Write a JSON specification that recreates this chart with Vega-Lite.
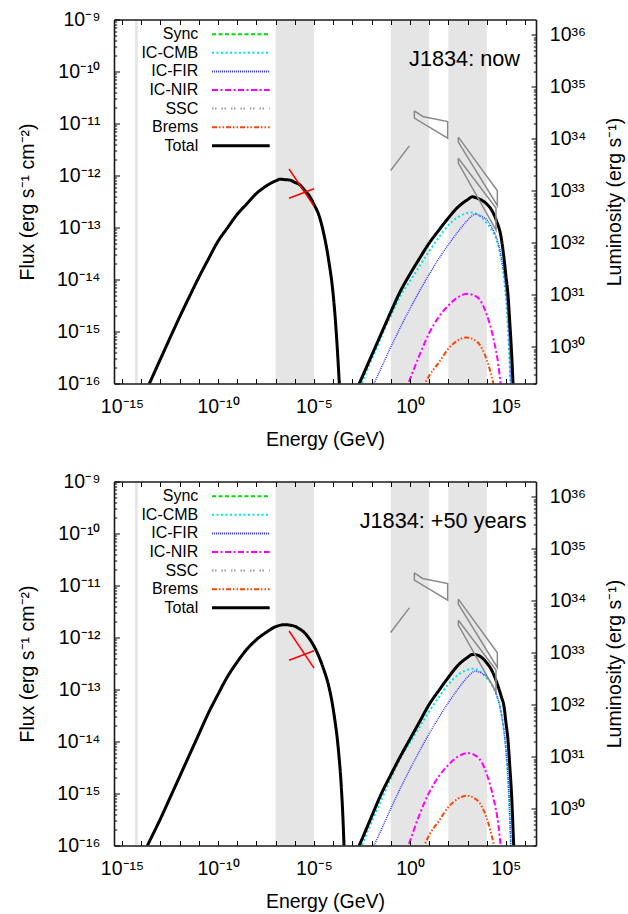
{
  "$schema": "https://vega.github.io/schema/vega-lite/v6.json",
  "padding": {"left": 17, "top": 9.5, "right": 3, "bottom": 4},
  "background": "white",
  "datasets": {
    "bands": [
      {"band": "radio", "E0": 4.8e-15, "E1": 6.6e-15},
      {"band": "xray", "E0": 1e-7, "E1": 1e-5},
      {"band": "gev", "E0": 0.1, "E1": 10},
      {"band": "tev", "E0": 100, "E1": 1e4}
    ],
    "lum": [{"L": 1e30}, {"L": 1e36}],
    "obs": [
      {"shape": "fermi_low", "i": 0, "E": 0.098, "F": 1.25e-12},
      {"shape": "fermi_low", "i": 1, "E": 0.92, "F": 3.72e-12},
      {"shape": "fermi_bowtie", "i": 0, "E": 1.683, "F": 1.754e-11},
      {"shape": "fermi_bowtie", "i": 1, "E": 4.58, "F": 1.364e-11},
      {"shape": "fermi_bowtie", "i": 2, "E": 91.6, "F": 1.091e-11},
      {"shape": "fermi_bowtie", "i": 3, "E": 91.6, "F": 5.22e-12},
      {"shape": "fermi_bowtie", "i": 4, "E": 1.683, "F": 1.268e-11},
      {"shape": "fermi_bowtie", "i": 5, "E": 1.683, "F": 1.754e-11},
      {"shape": "hess_a", "i": 0, "E": 328.9, "F": 5.46e-12},
      {"shape": "hess_a", "i": 1, "E": 3.54e4, "F": 5.07e-13},
      {"shape": "hess_a", "i": 2, "E": 3.54e4, "F": 2.65e-13},
      {"shape": "hess_a", "i": 3, "E": 328.9, "F": 4.38e-12},
      {"shape": "hess_a", "i": 4, "E": 328.9, "F": 5.46e-12},
      {"shape": "hess_b", "i": 0, "E": 328.9, "F": 2.15e-12},
      {"shape": "hess_b", "i": 1, "E": 3.01e4, "F": 2.36e-13},
      {"shape": "hess_b", "i": 2, "E": 3.01e4, "F": 9.02e-14},
      {"shape": "hess_b", "i": 3, "E": 328.9, "F": 1.73e-12},
      {"shape": "hess_b", "i": 4, "E": 328.9, "F": 2.15e-12}
    ],
    "xray": [
      {"part": "a", "E": 5.01e-7, "F": 1.334e-12},
      {"part": "a", "E": 1e-5, "F": 2.57e-13},
      {"part": "b", "E": 5.01e-7, "F": 3.66e-13},
      {"part": "b", "E": 1e-5, "F": 5.55e-13}
    ],
    "now_model": [
      {"series": "Sync", "part": "lo", "E": 1.585e-14, "F": 6.52e-17},
      {"series": "Sync", "part": "lo", "E": 3.162e-14, "F": 1.146e-16},
      {"series": "Sync", "part": "lo", "E": 1e-13, "F": 2.94e-16},
      {"series": "Sync", "part": "lo", "E": 3.162e-13, "F": 7.52e-16},
      {"series": "Sync", "part": "lo", "E": 1e-12, "F": 1.897e-15},
      {"series": "Sync", "part": "lo", "E": 3.162e-12, "F": 4.6e-15},
      {"series": "Sync", "part": "lo", "E": 1e-11, "F": 1.096e-14},
      {"series": "Sync", "part": "lo", "E": 3.162e-11, "F": 2.477e-14},
      {"series": "Sync", "part": "lo", "E": 1e-10, "F": 5.43e-14},
      {"series": "Sync", "part": "lo", "E": 3.162e-10, "F": 9.93e-14},
      {"series": "Sync", "part": "lo", "E": 1e-9, "F": 1.799e-13},
      {"series": "Sync", "part": "lo", "E": 3.162e-9, "F": 2.85e-13},
      {"series": "Sync", "part": "lo", "E": 1e-8, "F": 4.51e-13},
      {"series": "Sync", "part": "lo", "E": 3.162e-8, "F": 6.24e-13},
      {"series": "Sync", "part": "lo", "E": 1e-7, "F": 7.87e-13},
      {"series": "Sync", "part": "lo", "E": 1.778e-7, "F": 8.51e-13},
      {"series": "Sync", "part": "lo", "E": 3.162e-7, "F": 8.32e-13},
      {"series": "Sync", "part": "lo", "E": 5.623e-7, "F": 8.15e-13},
      {"series": "Sync", "part": "lo", "E": 1e-6, "F": 7.38e-13},
      {"series": "Sync", "part": "lo", "E": 1.778e-6, "F": 6.68e-13},
      {"series": "Sync", "part": "lo", "E": 3.162e-6, "F": 5.27e-13},
      {"series": "Sync", "part": "lo", "E": 5.623e-6, "F": 4.11e-13},
      {"series": "Sync", "part": "lo", "E": 1e-5, "F": 2.77e-13},
      {"series": "Sync", "part": "lo", "E": 1.778e-5, "F": 1.746e-13},
      {"series": "Sync", "part": "lo", "E": 3.162e-5, "F": 7.87e-14},
      {"series": "Sync", "part": "lo", "E": 5.623e-5, "F": 2.52e-14},
      {"series": "Sync", "part": "lo", "E": 1e-4, "F": 5.07e-15},
      {"series": "Sync", "part": "lo", "E": 1.259e-4, "F": 1.919e-15},
      {"series": "Sync", "part": "lo", "E": 1.585e-4, "F": 5.66e-16},
      {"series": "Sync", "part": "lo", "E": 1.995e-4, "F": 1.334e-16},
      {"series": "Sync", "part": "lo", "E": 2.512e-4, "F": 3.02e-17},
      {"series": "IC-CMB", "part": "hi", "E": 2.512e-3, "F": 8.51e-17},
      {"series": "IC-CMB", "part": "hi", "E": 3.162e-3, "F": 1.042e-16},
      {"series": "IC-CMB", "part": "hi", "E": 1e-2, "F": 2.86e-16},
      {"series": "IC-CMB", "part": "hi", "E": 3.162e-2, "F": 7.78e-16},
      {"series": "IC-CMB", "part": "hi", "E": 0.1, "F": 1.995e-15},
      {"series": "IC-CMB", "part": "hi", "E": 0.3162, "F": 4.81e-15},
      {"series": "IC-CMB", "part": "hi", "E": 1, "F": 9.33e-15},
      {"series": "IC-CMB", "part": "hi", "E": 3.162, "F": 1.811e-14},
      {"series": "IC-CMB", "part": "hi", "E": 10, "F": 3.52e-14},
      {"series": "IC-CMB", "part": "hi", "E": 31.62, "F": 6.41e-14},
      {"series": "IC-CMB", "part": "hi", "E": 100, "F": 1.114e-13},
      {"series": "IC-CMB", "part": "hi", "E": 316.2, "F": 1.581e-13},
      {"series": "IC-CMB", "part": "hi", "E": 1000, "F": 1.905e-13},
      {"series": "IC-CMB", "part": "hi", "E": 1778, "F": 1.95e-13},
      {"series": "IC-CMB", "part": "hi", "E": 3162, "F": 1.778e-13},
      {"series": "IC-CMB", "part": "hi", "E": 1e4, "F": 1.222e-13},
      {"series": "IC-CMB", "part": "hi", "E": 1.778e4, "F": 9.06e-14},
      {"series": "IC-CMB", "part": "hi", "E": 3.162e4, "F": 5.85e-14},
      {"series": "IC-CMB", "part": "hi", "E": 5.623e4, "F": 2.4e-14},
      {"series": "IC-CMB", "part": "hi", "E": 7.943e4, "F": 1.014e-14},
      {"series": "IC-CMB", "part": "hi", "E": 1e5, "F": 4.35e-15},
      {"series": "IC-CMB", "part": "hi", "E": 1.259e5, "F": 1.159e-15},
      {"series": "IC-CMB", "part": "hi", "E": 1.585e5, "F": 1.897e-16},
      {"series": "IC-CMB", "part": "hi", "E": 1.995e5, "F": 2.51e-17},
      {"series": "IC-FIR", "part": "hi", "E": 7.943e-3, "F": 6.76e-17},
      {"series": "IC-FIR", "part": "hi", "E": 1.334e-2, "F": 1e-16},
      {"series": "IC-FIR", "part": "hi", "E": 3.162e-2, "F": 1.995e-16},
      {"series": "IC-FIR", "part": "hi", "E": 0.1, "F": 5.01e-16},
      {"series": "IC-FIR", "part": "hi", "E": 0.3162, "F": 1.202e-15},
      {"series": "IC-FIR", "part": "hi", "E": 1, "F": 2.754e-15},
      {"series": "IC-FIR", "part": "hi", "E": 3.162, "F": 6.03e-15},
      {"series": "IC-FIR", "part": "hi", "E": 10, "F": 1.259e-14},
      {"series": "IC-FIR", "part": "hi", "E": 31.62, "F": 2.512e-14},
      {"series": "IC-FIR", "part": "hi", "E": 100, "F": 4.68e-14},
      {"series": "IC-FIR", "part": "hi", "E": 316.2, "F": 8.32e-14},
      {"series": "IC-FIR", "part": "hi", "E": 1000, "F": 1.38e-13},
      {"series": "IC-FIR", "part": "hi", "E": 2512, "F": 1.803e-13},
      {"series": "IC-FIR", "part": "hi", "E": 5623, "F": 1.622e-13},
      {"series": "IC-FIR", "part": "hi", "E": 1e4, "F": 1.403e-13},
      {"series": "IC-FIR", "part": "hi", "E": 1.778e4, "F": 1.023e-13},
      {"series": "IC-FIR", "part": "hi", "E": 3.162e4, "F": 6.46e-14},
      {"series": "IC-FIR", "part": "hi", "E": 5.623e4, "F": 2.75e-14},
      {"series": "IC-FIR", "part": "hi", "E": 7.943e4, "F": 1.259e-14},
      {"series": "IC-FIR", "part": "hi", "E": 1e5, "F": 5.75e-15},
      {"series": "IC-FIR", "part": "hi", "E": 1.259e5, "F": 1.778e-15},
      {"series": "IC-FIR", "part": "hi", "E": 1.585e5, "F": 3.02e-16},
      {"series": "IC-FIR", "part": "hi", "E": 1.905e5, "F": 3.98e-17},
      {"series": "IC-NIR", "part": "hi", "E": 0.5012, "F": 6.31e-17},
      {"series": "IC-NIR", "part": "hi", "E": 0.8128, "F": 1e-16},
      {"series": "IC-NIR", "part": "hi", "E": 3.162, "F": 3.55e-16},
      {"series": "IC-NIR", "part": "hi", "E": 10, "F": 9.33e-16},
      {"series": "IC-NIR", "part": "hi", "E": 31.62, "F": 1.905e-15},
      {"series": "IC-NIR", "part": "hi", "E": 100, "F": 3.162e-15},
      {"series": "IC-NIR", "part": "hi", "E": 316.2, "F": 4.57e-15},
      {"series": "IC-NIR", "part": "hi", "E": 1000, "F": 5.3e-15},
      {"series": "IC-NIR", "part": "hi", "E": 3162, "F": 4.57e-15},
      {"series": "IC-NIR", "part": "hi", "E": 1e4, "F": 2.09e-15},
      {"series": "IC-NIR", "part": "hi", "E": 2.188e4, "F": 7.41e-16},
      {"series": "IC-NIR", "part": "hi", "E": 3.981e4, "F": 2.29e-16},
      {"series": "IC-NIR", "part": "hi", "E": 5.248e4, "F": 1e-16},
      {"series": "IC-NIR", "part": "hi", "E": 6.31e4, "F": 5.62e-17},
      {"series": "Brems", "part": "hi", "E": 3.981, "F": 7.08e-17},
      {"series": "Brems", "part": "hi", "E": 6.026, "F": 1e-16},
      {"series": "Brems", "part": "hi", "E": 10, "F": 1.413e-16},
      {"series": "Brems", "part": "hi", "E": 31.62, "F": 2.512e-16},
      {"series": "Brems", "part": "hi", "E": 100, "F": 4.68e-16},
      {"series": "Brems", "part": "hi", "E": 316.2, "F": 6.76e-16},
      {"series": "Brems", "part": "hi", "E": 831.8, "F": 7.67e-16},
      {"series": "Brems", "part": "hi", "E": 3162, "F": 6.31e-16},
      {"series": "Brems", "part": "hi", "E": 1e4, "F": 2.82e-16},
      {"series": "Brems", "part": "hi", "E": 2.188e4, "F": 1e-16},
      {"series": "Brems", "part": "hi", "E": 2.818e4, "F": 6.31e-17},
      {"series": "Total", "part": "lo", "E": 1.585e-14, "F": 6.52e-17},
      {"series": "Total", "part": "lo", "E": 3.162e-14, "F": 1.146e-16},
      {"series": "Total", "part": "lo", "E": 1e-13, "F": 2.94e-16},
      {"series": "Total", "part": "lo", "E": 3.162e-13, "F": 7.52e-16},
      {"series": "Total", "part": "lo", "E": 1e-12, "F": 1.897e-15},
      {"series": "Total", "part": "lo", "E": 3.162e-12, "F": 4.6e-15},
      {"series": "Total", "part": "lo", "E": 1e-11, "F": 1.096e-14},
      {"series": "Total", "part": "lo", "E": 3.162e-11, "F": 2.477e-14},
      {"series": "Total", "part": "lo", "E": 1e-10, "F": 5.43e-14},
      {"series": "Total", "part": "lo", "E": 3.162e-10, "F": 9.93e-14},
      {"series": "Total", "part": "lo", "E": 1e-9, "F": 1.799e-13},
      {"series": "Total", "part": "lo", "E": 3.162e-9, "F": 2.85e-13},
      {"series": "Total", "part": "lo", "E": 1e-8, "F": 4.51e-13},
      {"series": "Total", "part": "lo", "E": 3.162e-8, "F": 6.24e-13},
      {"series": "Total", "part": "lo", "E": 1e-7, "F": 7.87e-13},
      {"series": "Total", "part": "lo", "E": 1.778e-7, "F": 8.51e-13},
      {"series": "Total", "part": "lo", "E": 3.162e-7, "F": 8.32e-13},
      {"series": "Total", "part": "lo", "E": 5.623e-7, "F": 8.15e-13},
      {"series": "Total", "part": "lo", "E": 1e-6, "F": 7.38e-13},
      {"series": "Total", "part": "lo", "E": 1.778e-6, "F": 6.68e-13},
      {"series": "Total", "part": "lo", "E": 3.162e-6, "F": 5.27e-13},
      {"series": "Total", "part": "lo", "E": 5.623e-6, "F": 4.11e-13},
      {"series": "Total", "part": "lo", "E": 1e-5, "F": 2.77e-13},
      {"series": "Total", "part": "lo", "E": 1.778e-5, "F": 1.746e-13},
      {"series": "Total", "part": "lo", "E": 3.162e-5, "F": 7.87e-14},
      {"series": "Total", "part": "lo", "E": 5.623e-5, "F": 2.52e-14},
      {"series": "Total", "part": "lo", "E": 1e-4, "F": 5.07e-15},
      {"series": "Total", "part": "lo", "E": 1.259e-4, "F": 1.919e-15},
      {"series": "Total", "part": "lo", "E": 1.585e-4, "F": 5.66e-16},
      {"series": "Total", "part": "lo", "E": 1.995e-4, "F": 1.334e-16},
      {"series": "Total", "part": "lo", "E": 2.512e-4, "F": 3.02e-17},
      {"series": "Total", "part": "hi", "E": 1.585e-3, "F": 7.35e-17},
      {"series": "Total", "part": "hi", "E": 3.162e-3, "F": 1.312e-16},
      {"series": "Total", "part": "hi", "E": 1e-2, "F": 3.45e-16},
      {"series": "Total", "part": "hi", "E": 3.162e-2, "F": 9.06e-16},
      {"series": "Total", "part": "hi", "E": 0.1, "F": 2.38e-15},
      {"series": "Total", "part": "hi", "E": 0.3162, "F": 5.97e-15},
      {"series": "Total", "part": "hi", "E": 1, "F": 1.271e-14},
      {"series": "Total", "part": "hi", "E": 3.162, "F": 2.56e-14},
      {"series": "Total", "part": "hi", "E": 10, "F": 5.02e-14},
      {"series": "Total", "part": "hi", "E": 31.62, "F": 8.85e-14},
      {"series": "Total", "part": "hi", "E": 100, "F": 1.528e-13},
      {"series": "Total", "part": "hi", "E": 316.2, "F": 2.47e-13},
      {"series": "Total", "part": "hi", "E": 1000, "F": 3.43e-13},
      {"series": "Total", "part": "hi", "E": 1778, "F": 3.89e-13},
      {"series": "Total", "part": "hi", "E": 3162, "F": 3.66e-13},
      {"series": "Total", "part": "hi", "E": 1e4, "F": 2.82e-13},
      {"series": "Total", "part": "hi", "E": 1.778e4, "F": 2.17e-13},
      {"series": "Total", "part": "hi", "E": 3.162e4, "F": 1.358e-13},
      {"series": "Total", "part": "hi", "E": 5.623e4, "F": 6.35e-14},
      {"series": "Total", "part": "hi", "E": 7.943e4, "F": 2.49e-14},
      {"series": "Total", "part": "hi", "E": 1e5, "F": 1.143e-14},
      {"series": "Total", "part": "hi", "E": 1.259e5, "F": 5.24e-15},
      {"series": "Total", "part": "hi", "E": 1.585e5, "F": 1.422e-15},
      {"series": "Total", "part": "hi", "E": 1.995e5, "F": 3.37e-16},
      {"series": "Total", "part": "hi", "E": 2.512e5, "F": 5.01e-17}
    ],
    "plus50_model": [
      {"series": "Sync", "part": "lo", "E": 1.585e-14, "F": 8.02e-17},
      {"series": "Sync", "part": "lo", "E": 3.162e-14, "F": 1.355e-16},
      {"series": "Sync", "part": "lo", "E": 1e-13, "F": 3.25e-16},
      {"series": "Sync", "part": "lo", "E": 3.162e-13, "F": 8.26e-16},
      {"series": "Sync", "part": "lo", "E": 1e-12, "F": 2.11e-15},
      {"series": "Sync", "part": "lo", "E": 3.162e-12, "F": 5.4e-15},
      {"series": "Sync", "part": "lo", "E": 1e-11, "F": 1.377e-14},
      {"series": "Sync", "part": "lo", "E": 3.162e-11, "F": 3.52e-14},
      {"series": "Sync", "part": "lo", "E": 1e-10, "F": 8.07e-14},
      {"series": "Sync", "part": "lo", "E": 3.162e-10, "F": 1.782e-13},
      {"series": "Sync", "part": "lo", "E": 1e-9, "F": 3.38e-13},
      {"series": "Sync", "part": "lo", "E": 3.162e-9, "F": 5.93e-13},
      {"series": "Sync", "part": "lo", "E": 1e-8, "F": 9.08e-13},
      {"series": "Sync", "part": "lo", "E": 3.162e-8, "F": 1.25e-12},
      {"series": "Sync", "part": "lo", "E": 1e-7, "F": 1.614e-12},
      {"series": "Sync", "part": "lo", "E": 3.162e-7, "F": 1.766e-12},
      {"series": "Sync", "part": "lo", "E": 5.623e-7, "F": 1.726e-12},
      {"series": "Sync", "part": "lo", "E": 1e-6, "F": 1.644e-12},
      {"series": "Sync", "part": "lo", "E": 1.778e-6, "F": 1.459e-12},
      {"series": "Sync", "part": "lo", "E": 3.162e-6, "F": 1.239e-12},
      {"series": "Sync", "part": "lo", "E": 5.623e-6, "F": 9.57e-13},
      {"series": "Sync", "part": "lo", "E": 1e-5, "F": 6.81e-13},
      {"series": "Sync", "part": "lo", "E": 1.778e-5, "F": 4.34e-13},
      {"series": "Sync", "part": "lo", "E": 3.162e-5, "F": 2.47e-13},
      {"series": "Sync", "part": "lo", "E": 5.623e-5, "F": 1.236e-13},
      {"series": "Sync", "part": "lo", "E": 1e-4, "F": 4.24e-14},
      {"series": "Sync", "part": "lo", "E": 1.259e-4, "F": 2.37e-14},
      {"series": "Sync", "part": "lo", "E": 1.585e-4, "F": 1.242e-14},
      {"series": "Sync", "part": "lo", "E": 1.995e-4, "F": 5.28e-15},
      {"series": "Sync", "part": "lo", "E": 2.512e-4, "F": 1.803e-15},
      {"series": "Sync", "part": "lo", "E": 3.162e-4, "F": 3.86e-16},
      {"series": "Sync", "part": "lo", "E": 3.981e-4, "F": 4.07e-17},
      {"series": "IC-CMB", "part": "hi", "E": 2.512e-3, "F": 8.51e-17},
      {"series": "IC-CMB", "part": "hi", "E": 3.162e-3, "F": 1.047e-16},
      {"series": "IC-CMB", "part": "hi", "E": 1e-2, "F": 2.82e-16},
      {"series": "IC-CMB", "part": "hi", "E": 3.162e-2, "F": 7.41e-16},
      {"series": "IC-CMB", "part": "hi", "E": 0.1, "F": 1.905e-15},
      {"series": "IC-CMB", "part": "hi", "E": 0.3162, "F": 4.68e-15},
      {"series": "IC-CMB", "part": "hi", "E": 1, "F": 9.55e-15},
      {"series": "IC-CMB", "part": "hi", "E": 3.162, "F": 1.905e-14},
      {"series": "IC-CMB", "part": "hi", "E": 10, "F": 3.8e-14},
      {"series": "IC-CMB", "part": "hi", "E": 31.62, "F": 7.08e-14},
      {"series": "IC-CMB", "part": "hi", "E": 100, "F": 1.259e-13},
      {"series": "IC-CMB", "part": "hi", "E": 316.2, "F": 1.905e-13},
      {"series": "IC-CMB", "part": "hi", "E": 1000, "F": 2.4e-13},
      {"series": "IC-CMB", "part": "hi", "E": 1778, "F": 2.512e-13},
      {"series": "IC-CMB", "part": "hi", "E": 3162, "F": 2.4e-13},
      {"series": "IC-CMB", "part": "hi", "E": 1e4, "F": 1.66e-13},
      {"series": "IC-CMB", "part": "hi", "E": 1.778e4, "F": 1.259e-13},
      {"series": "IC-CMB", "part": "hi", "E": 3.162e4, "F": 7.94e-14},
      {"series": "IC-CMB", "part": "hi", "E": 5.623e4, "F": 3.55e-14},
      {"series": "IC-CMB", "part": "hi", "E": 7.943e4, "F": 1.585e-14},
      {"series": "IC-CMB", "part": "hi", "E": 1e5, "F": 7.08e-15},
      {"series": "IC-CMB", "part": "hi", "E": 1.259e5, "F": 1.995e-15},
      {"series": "IC-CMB", "part": "hi", "E": 1.585e5, "F": 3.55e-16},
      {"series": "IC-CMB", "part": "hi", "E": 1.995e5, "F": 3.16e-17},
      {"series": "IC-FIR", "part": "hi", "E": 7.943e-3, "F": 6.76e-17},
      {"series": "IC-FIR", "part": "hi", "E": 1.334e-2, "F": 1e-16},
      {"series": "IC-FIR", "part": "hi", "E": 3.162e-2, "F": 1.995e-16},
      {"series": "IC-FIR", "part": "hi", "E": 0.1, "F": 5.13e-16},
      {"series": "IC-FIR", "part": "hi", "E": 0.3162, "F": 1.259e-15},
      {"series": "IC-FIR", "part": "hi", "E": 1, "F": 2.95e-15},
      {"series": "IC-FIR", "part": "hi", "E": 3.162, "F": 6.61e-15},
      {"series": "IC-FIR", "part": "hi", "E": 10, "F": 1.413e-14},
      {"series": "IC-FIR", "part": "hi", "E": 31.62, "F": 2.88e-14},
      {"series": "IC-FIR", "part": "hi", "E": 100, "F": 5.62e-14},
      {"series": "IC-FIR", "part": "hi", "E": 316.2, "F": 1.023e-13},
      {"series": "IC-FIR", "part": "hi", "E": 1000, "F": 1.738e-13},
      {"series": "IC-FIR", "part": "hi", "E": 2512, "F": 2.25e-13},
      {"series": "IC-FIR", "part": "hi", "E": 5623, "F": 2.04e-13},
      {"series": "IC-FIR", "part": "hi", "E": 1e4, "F": 1.738e-13},
      {"series": "IC-FIR", "part": "hi", "E": 1.778e4, "F": 1.288e-13},
      {"series": "IC-FIR", "part": "hi", "E": 3.162e4, "F": 8.13e-14},
      {"series": "IC-FIR", "part": "hi", "E": 5.623e4, "F": 3.55e-14},
      {"series": "IC-FIR", "part": "hi", "E": 7.943e4, "F": 1.514e-14},
      {"series": "IC-FIR", "part": "hi", "E": 1e5, "F": 6.61e-15},
      {"series": "IC-FIR", "part": "hi", "E": 1.259e5, "F": 2.24e-15},
      {"series": "IC-FIR", "part": "hi", "E": 1.585e5, "F": 3.55e-16},
      {"series": "IC-FIR", "part": "hi", "E": 1.905e5, "F": 3.98e-17},
      {"series": "IC-NIR", "part": "hi", "E": 0.5012, "F": 6.31e-17},
      {"series": "IC-NIR", "part": "hi", "E": 0.8128, "F": 1e-16},
      {"series": "IC-NIR", "part": "hi", "E": 3.162, "F": 3.98e-16},
      {"series": "IC-NIR", "part": "hi", "E": 10, "F": 1.047e-15},
      {"series": "IC-NIR", "part": "hi", "E": 31.62, "F": 2.14e-15},
      {"series": "IC-NIR", "part": "hi", "E": 100, "F": 3.55e-15},
      {"series": "IC-NIR", "part": "hi", "E": 316.2, "F": 5.13e-15},
      {"series": "IC-NIR", "part": "hi", "E": 1000, "F": 6e-15},
      {"series": "IC-NIR", "part": "hi", "E": 3162, "F": 5.13e-15},
      {"series": "IC-NIR", "part": "hi", "E": 1e4, "F": 2.34e-15},
      {"series": "IC-NIR", "part": "hi", "E": 2.188e4, "F": 8.32e-16},
      {"series": "IC-NIR", "part": "hi", "E": 3.981e4, "F": 2.512e-16},
      {"series": "IC-NIR", "part": "hi", "E": 5.248e4, "F": 1e-16},
      {"series": "IC-NIR", "part": "hi", "E": 6.31e4, "F": 5.62e-17},
      {"series": "Brems", "part": "hi", "E": 3.981, "F": 7.08e-17},
      {"series": "Brems", "part": "hi", "E": 5.623, "F": 1e-16},
      {"series": "Brems", "part": "hi", "E": 10, "F": 1.585e-16},
      {"series": "Brems", "part": "hi", "E": 31.62, "F": 2.95e-16},
      {"series": "Brems", "part": "hi", "E": 100, "F": 5.5e-16},
      {"series": "Brems", "part": "hi", "E": 316.2, "F": 7.94e-16},
      {"series": "Brems", "part": "hi", "E": 891.3, "F": 9.06e-16},
      {"series": "Brems", "part": "hi", "E": 3162, "F": 7.41e-16},
      {"series": "Brems", "part": "hi", "E": 1e4, "F": 3.31e-16},
      {"series": "Brems", "part": "hi", "E": 2.344e4, "F": 1e-16},
      {"series": "Brems", "part": "hi", "E": 2.818e4, "F": 7.08e-17},
      {"series": "Total", "part": "lo", "E": 1.585e-14, "F": 8.02e-17},
      {"series": "Total", "part": "lo", "E": 3.162e-14, "F": 1.355e-16},
      {"series": "Total", "part": "lo", "E": 1e-13, "F": 3.25e-16},
      {"series": "Total", "part": "lo", "E": 3.162e-13, "F": 8.26e-16},
      {"series": "Total", "part": "lo", "E": 1e-12, "F": 2.11e-15},
      {"series": "Total", "part": "lo", "E": 3.162e-12, "F": 5.4e-15},
      {"series": "Total", "part": "lo", "E": 1e-11, "F": 1.377e-14},
      {"series": "Total", "part": "lo", "E": 3.162e-11, "F": 3.52e-14},
      {"series": "Total", "part": "lo", "E": 1e-10, "F": 8.07e-14},
      {"series": "Total", "part": "lo", "E": 3.162e-10, "F": 1.782e-13},
      {"series": "Total", "part": "lo", "E": 1e-9, "F": 3.38e-13},
      {"series": "Total", "part": "lo", "E": 3.162e-9, "F": 5.93e-13},
      {"series": "Total", "part": "lo", "E": 1e-8, "F": 9.08e-13},
      {"series": "Total", "part": "lo", "E": 3.162e-8, "F": 1.25e-12},
      {"series": "Total", "part": "lo", "E": 1e-7, "F": 1.614e-12},
      {"series": "Total", "part": "lo", "E": 3.162e-7, "F": 1.766e-12},
      {"series": "Total", "part": "lo", "E": 5.623e-7, "F": 1.726e-12},
      {"series": "Total", "part": "lo", "E": 1e-6, "F": 1.644e-12},
      {"series": "Total", "part": "lo", "E": 1.778e-6, "F": 1.459e-12},
      {"series": "Total", "part": "lo", "E": 3.162e-6, "F": 1.239e-12},
      {"series": "Total", "part": "lo", "E": 5.623e-6, "F": 9.57e-13},
      {"series": "Total", "part": "lo", "E": 1e-5, "F": 6.81e-13},
      {"series": "Total", "part": "lo", "E": 1.778e-5, "F": 4.34e-13},
      {"series": "Total", "part": "lo", "E": 3.162e-5, "F": 2.47e-13},
      {"series": "Total", "part": "lo", "E": 5.623e-5, "F": 1.236e-13},
      {"series": "Total", "part": "lo", "E": 1e-4, "F": 4.24e-14},
      {"series": "Total", "part": "lo", "E": 1.259e-4, "F": 2.37e-14},
      {"series": "Total", "part": "lo", "E": 1.585e-4, "F": 1.242e-14},
      {"series": "Total", "part": "lo", "E": 1.995e-4, "F": 5.28e-15},
      {"series": "Total", "part": "lo", "E": 2.512e-4, "F": 1.803e-15},
      {"series": "Total", "part": "lo", "E": 3.162e-4, "F": 3.86e-16},
      {"series": "Total", "part": "lo", "E": 3.981e-4, "F": 4.07e-17},
      {"series": "Total", "part": "hi", "E": 1.585e-3, "F": 7.41e-17},
      {"series": "Total", "part": "hi", "E": 3.162e-3, "F": 1.327e-16},
      {"series": "Total", "part": "hi", "E": 1e-2, "F": 3.63e-16},
      {"series": "Total", "part": "hi", "E": 3.162e-2, "F": 9.77e-16},
      {"series": "Total", "part": "hi", "E": 0.1, "F": 2.29e-15},
      {"series": "Total", "part": "hi", "E": 0.3162, "F": 5.19e-15},
      {"series": "Total", "part": "hi", "E": 1, "F": 1.117e-14},
      {"series": "Total", "part": "hi", "E": 3.162, "F": 2.4e-14},
      {"series": "Total", "part": "hi", "E": 10, "F": 5.18e-14},
      {"series": "Total", "part": "hi", "E": 31.62, "F": 9.53e-14},
      {"series": "Total", "part": "hi", "E": 100, "F": 1.714e-13},
      {"series": "Total", "part": "hi", "E": 316.2, "F": 2.92e-13},
      {"series": "Total", "part": "hi", "E": 1000, "F": 4.15e-13},
      {"series": "Total", "part": "hi", "E": 1778, "F": 4.73e-13},
      {"series": "Total", "part": "hi", "E": 3162, "F": 4.61e-13},
      {"series": "Total", "part": "hi", "E": 1e4, "F": 3.24e-13},
      {"series": "Total", "part": "hi", "E": 1.778e4, "F": 2.37e-13},
      {"series": "Total", "part": "hi", "E": 3.162e4, "F": 1.426e-13},
      {"series": "Total", "part": "hi", "E": 5.623e4, "F": 7.4e-14},
      {"series": "Total", "part": "hi", "E": 7.943e4, "F": 4.62e-14},
      {"series": "Total", "part": "hi", "E": 1e5, "F": 2.25e-14},
      {"series": "Total", "part": "hi", "E": 1.259e5, "F": 1.096e-14},
      {"series": "Total", "part": "hi", "E": 1.585e5, "F": 3.22e-15},
      {"series": "Total", "part": "hi", "E": 1.995e5, "F": 7.94e-16},
      {"series": "Total", "part": "hi", "E": 2.239e5, "F": 2.95e-16},
      {"series": "Total", "part": "hi", "E": 2.512e5, "F": 1e-16},
      {"series": "Total", "part": "hi", "E": 2.818e5, "F": 3.55e-17}
    ]
  },
  "vconcat": [
    {
      "width": 422,
      "height": 364,
      "title": {"text": "J1834: now", "anchor": "end", "frame": "group", "orient": "top", "offset": 0, "dx": -16, "dy": 78, "baseline": "alphabetic", "fontSize": 21.7, "font": "Liberation Sans", "fontWeight": "normal", "color": "#000000"},
      "layer": [
        {
          "data": {"name": "bands"},
          "mark": {"type": "rect", "color": "#e5e5e5"},
          "encoding": {
            "x": {"field": "E0", "type": "quantitative", "scale": {"type": "log", "domain": [3.83e-16, 3.65e6], "nice": false},
              "axis": {"orient": "top", "values": [1e-15, 1e-14, 1e-13, 1e-12, 1e-11, 1e-10, 1e-9, 1e-8, 1e-7, 1e-6, 1e-5, 1e-4, 1e-3, 1e-2, 1e-1, 1, 10, 100, 1000, 1e4, 1e5, 1e6], "labels": false, "tickSize": -5, "title": null, "zindex": 2}},
            "x2": {"field": "E1"}
          }
        },
        {
          "data": {"name": "now_model"},
          "mark": {"type": "line", "clip": true, "interpolate": "monotone"},
          "encoding": {
            "x": {"field": "E", "type": "quantitative", "scale": {"type": "log", "domain": [3.83e-16, 3.65e6], "nice": false},
              "axis": {"orient": "bottom", "values": [1e-15, 1e-14, 1e-13, 1e-12, 1e-11, 1e-10, 1e-9, 1e-8, 1e-7, 1e-6, 1e-5, 1e-4, 1e-3, 1e-2, 1e-1, 1, 10, 100, 1000, 1e4, 1e5, 1e6],
                "labelExpr": "round(log(datum.value)/LN10) % 5 === 0 ? '10' + replace(replace(replace(replace(replace(replace(replace(replace(replace(replace(replace('' + round(log(datum.value)/LN10), '-', '⁻'), regexp('0','g'), '⁰'), regexp('1','g'), '¹'), regexp('2','g'), '²'), regexp('3','g'), '³'), regexp('4','g'), '⁴'), regexp('5','g'), '⁵'), regexp('6','g'), '⁶'), regexp('7','g'), '⁷'), regexp('8','g'), '⁸'), regexp('9','g'), '⁹') : ''",
                "tickSize": -5, "labelPadding": 18.6, "title": "Energy (GeV)", "titleY": 62, "titleBaseline": "alphabetic", "zindex": 2}},
            "y": {"field": "F", "type": "quantitative", "scale": {"type": "log", "domain": [1e-16, 1e-9], "nice": false},
              "axis": {"orient": "left", "values": [1e-16, 2e-16, 3e-16, 4e-16, 5e-16, 6e-16, 7e-16, 8e-16, 9e-16, 1e-15, 2e-15, 3e-15, 4e-15, 5e-15, 6e-15, 7e-15, 8e-15, 9e-15, 1e-14, 2e-14, 3e-14, 4e-14, 5e-14, 6e-14, 7e-14, 8e-14, 9e-14, 1e-13, 2e-13, 3e-13, 4e-13, 5e-13, 6e-13, 7e-13, 8e-13, 9e-13, 1e-12, 2e-12, 3e-12, 4e-12, 5e-12, 6e-12, 7e-12, 8e-12, 9e-12, 1e-11, 2e-11, 3e-11, 4e-11, 5e-11, 6e-11, 7e-11, 8e-11, 9e-11, 1e-10, 2e-10, 3e-10, 4e-10, 5e-10, 6e-10, 7e-10, 8e-10, 9e-10, 1e-9],
                "labelExpr": "abs(log(datum.value)/LN10 - round(log(datum.value)/LN10)) < 0.001 ? '10' + replace(replace(replace(replace(replace(replace(replace(replace(replace(replace(replace('' + round(log(datum.value)/LN10), '-', '⁻'), regexp('0','g'), '⁰'), regexp('1','g'), '¹'), regexp('2','g'), '²'), regexp('3','g'), '³'), regexp('4','g'), '⁴'), regexp('5','g'), '⁵'), regexp('6','g'), '⁶'), regexp('7','g'), '⁷'), regexp('8','g'), '⁸'), regexp('9','g'), '⁹') : ''",
                "tickSize": {"condition": {"test": "abs(log(datum.value)/LN10 - round(log(datum.value)/LN10)) < 0.001", "value": -5.5}, "value": -2.7},
                "labelPadding": 19.5, "title": "Flux (erg s⁻¹ cm⁻²)", "titleAngle": -90, "titleX": -80.7, "titleY": 182, "titleBaseline": "alphabetic", "zindex": 2}},
            "stroke": {"field": "series", "type": "nominal",
              "scale": {"domain": ["Sync", "IC-CMB", "IC-FIR", "IC-NIR", "SSC", "Brems", "Total"], "range": ["#00dd00", "#00e5e5", "#3a3aff", "#ff00ff", "#999999", "#ff4500", "#000000"]},
              "legend": {"title": null, "orient": "none", "legendX": 118.85, "legendY": 6.7, "symbolType": "M-10,0H10", "symbolSize": 33.3, "symbolStrokeWidth": {"expr": "datum.value === 'Total' ? 3 : 2"}, "labelAlign": "right", "labelOffset": -50.55, "labelFontSize": 16, "labelFont": "Liberation Sans", "labelColor": "#000000", "rowPadding": 2.6, "padding": 0, "labelLimit": 200}},
            "strokeDash": {"field": "series", "type": "nominal",
              "scale": {"domain": ["Sync", "IC-CMB", "IC-FIR", "IC-NIR", "SSC", "Brems", "Total"], "range": [[4, 2.5], [2, 2.5], [1, 1], [6, 2.5, 2, 2.5], [1.5, 1.5, 1.5, 5], [5, 2, 1.5, 2, 1.5, 2], [1, 0]]},
              "legend": {"title": null, "orient": "none", "legendX": 118.85, "legendY": 6.7, "symbolType": "M-10,0H10", "symbolSize": 33.3, "symbolStrokeWidth": {"expr": "datum.value === 'Total' ? 3 : 2"}, "labelAlign": "right", "labelOffset": -50.55, "labelFontSize": 16, "labelFont": "Liberation Sans", "labelColor": "#000000", "rowPadding": 2.6, "padding": 0, "labelLimit": 200}},
            "strokeWidth": {"condition": [{"test": "datum.series === 'Total'", "value": 3}, {"test": "datum.series === 'IC-FIR'", "value": 1.5}], "value": 2},
            "detail": {"field": "part"}
          }
        },
        {
          "data": {"name": "obs"},
          "mark": {"type": "line", "clip": true, "color": "#8a8a8a", "strokeWidth": 1.5},
          "encoding": {
            "x": {"field": "E", "type": "quantitative", "scale": {"type": "log", "domain": [3.83e-16, 3.65e6], "nice": false}, "axis": null},
            "y": {"field": "F", "type": "quantitative", "scale": {"type": "log", "domain": [1e-16, 1e-9], "nice": false}, "axis": null},
            "detail": {"field": "shape"},
            "order": {"field": "i", "type": "quantitative"}
          }
        },
        {
          "data": {"name": "xray"},
          "mark": {"type": "line", "clip": true, "color": "#ff0000", "strokeWidth": 1.5},
          "encoding": {
            "x": {"field": "E", "type": "quantitative", "scale": {"type": "log", "domain": [3.83e-16, 3.65e6], "nice": false}, "axis": null},
            "y": {"field": "F", "type": "quantitative", "scale": {"type": "log", "domain": [1e-16, 1e-9], "nice": false}, "axis": null},
            "detail": {"field": "part"}
          }
        },
        {
          "data": {"name": "lum"},
          "mark": {"type": "point", "opacity": 0},
          "encoding": {
            "y": {"field": "L", "type": "quantitative", "scale": {"type": "log", "domain": [1.972e29, 1.972e36], "nice": false},
              "axis": {"orient": "right", "values": [2e29, 3e29, 4e29, 5e29, 6e29, 7e29, 8e29, 9e29, 1e30, 2e30, 3e30, 4e30, 5e30, 6e30, 7e30, 8e30, 9e30, 1e31, 2e31, 3e31, 4e31, 5e31, 6e31, 7e31, 8e31, 9e31, 1e32, 2e32, 3e32, 4e32, 5e32, 6e32, 7e32, 8e32, 9e32, 1e33, 2e33, 3e33, 4e33, 5e33, 6e33, 7e33, 8e33, 9e33, 1e34, 2e34, 3e34, 4e34, 5e34, 6e34, 7e34, 8e34, 9e34, 1e35, 2e35, 3e35, 4e35, 5e35, 6e35, 7e35, 8e35, 9e35, 1e36],
                "labelExpr": "abs(log(datum.value)/LN10 - round(log(datum.value)/LN10)) < 0.001 ? '10' + replace(replace(replace(replace(replace(replace(replace(replace(replace(replace(replace('' + round(log(datum.value)/LN10), '-', '⁻'), regexp('0','g'), '⁰'), regexp('1','g'), '¹'), regexp('2','g'), '²'), regexp('3','g'), '³'), regexp('4','g'), '⁴'), regexp('5','g'), '⁵'), regexp('6','g'), '⁶'), regexp('7','g'), '⁷'), regexp('8','g'), '⁸'), regexp('9','g'), '⁹') : ''",
                "tickSize": {"condition": {"test": "abs(log(datum.value)/LN10 - round(log(datum.value)/LN10)) < 0.001", "value": -5}, "value": -2.7},
                "labelPadding": 18.3, "title": "Luminosity (erg s⁻¹)", "titleAngle": -90, "titleX": 84, "titleY": 182, "titleBaseline": "alphabetic", "zindex": 2}}
          }
        }
      ],
      "resolve": {"scale": {"y": "independent"}}
    },
    {
      "width": 422,
      "height": 364,
      "title": {"text": "J1834: +50 years", "anchor": "end", "frame": "group", "orient": "top", "offset": 0, "dx": -9.3, "dy": 78, "baseline": "alphabetic", "fontSize": 21.7, "font": "Liberation Sans", "fontWeight": "normal", "color": "#000000"},
      "layer": [
        {
          "data": {"name": "bands"},
          "mark": {"type": "rect", "color": "#e5e5e5"},
          "encoding": {
            "x": {"field": "E0", "type": "quantitative", "scale": {"type": "log", "domain": [3.83e-16, 3.65e6], "nice": false},
              "axis": {"orient": "top", "values": [1e-15, 1e-14, 1e-13, 1e-12, 1e-11, 1e-10, 1e-9, 1e-8, 1e-7, 1e-6, 1e-5, 1e-4, 1e-3, 1e-2, 1e-1, 1, 10, 100, 1000, 1e4, 1e5, 1e6], "labels": false, "tickSize": -5, "title": null, "zindex": 2}},
            "x2": {"field": "E1"}
          }
        },
        {
          "data": {"name": "plus50_model"},
          "mark": {"type": "line", "clip": true, "interpolate": "monotone"},
          "encoding": {
            "x": {"field": "E", "type": "quantitative", "scale": {"type": "log", "domain": [3.83e-16, 3.65e6], "nice": false},
              "axis": {"orient": "bottom", "values": [1e-15, 1e-14, 1e-13, 1e-12, 1e-11, 1e-10, 1e-9, 1e-8, 1e-7, 1e-6, 1e-5, 1e-4, 1e-3, 1e-2, 1e-1, 1, 10, 100, 1000, 1e4, 1e5, 1e6],
                "labelExpr": "round(log(datum.value)/LN10) % 5 === 0 ? '10' + replace(replace(replace(replace(replace(replace(replace(replace(replace(replace(replace('' + round(log(datum.value)/LN10), '-', '⁻'), regexp('0','g'), '⁰'), regexp('1','g'), '¹'), regexp('2','g'), '²'), regexp('3','g'), '³'), regexp('4','g'), '⁴'), regexp('5','g'), '⁵'), regexp('6','g'), '⁶'), regexp('7','g'), '⁷'), regexp('8','g'), '⁸'), regexp('9','g'), '⁹') : ''",
                "tickSize": -5, "labelPadding": 18.6, "title": "Energy (GeV)", "titleY": 62, "titleBaseline": "alphabetic", "zindex": 2}},
            "y": {"field": "F", "type": "quantitative", "scale": {"type": "log", "domain": [1e-16, 1e-9], "nice": false},
              "axis": {"orient": "left", "values": [1e-16, 2e-16, 3e-16, 4e-16, 5e-16, 6e-16, 7e-16, 8e-16, 9e-16, 1e-15, 2e-15, 3e-15, 4e-15, 5e-15, 6e-15, 7e-15, 8e-15, 9e-15, 1e-14, 2e-14, 3e-14, 4e-14, 5e-14, 6e-14, 7e-14, 8e-14, 9e-14, 1e-13, 2e-13, 3e-13, 4e-13, 5e-13, 6e-13, 7e-13, 8e-13, 9e-13, 1e-12, 2e-12, 3e-12, 4e-12, 5e-12, 6e-12, 7e-12, 8e-12, 9e-12, 1e-11, 2e-11, 3e-11, 4e-11, 5e-11, 6e-11, 7e-11, 8e-11, 9e-11, 1e-10, 2e-10, 3e-10, 4e-10, 5e-10, 6e-10, 7e-10, 8e-10, 9e-10, 1e-9],
                "labelExpr": "abs(log(datum.value)/LN10 - round(log(datum.value)/LN10)) < 0.001 ? '10' + replace(replace(replace(replace(replace(replace(replace(replace(replace(replace(replace('' + round(log(datum.value)/LN10), '-', '⁻'), regexp('0','g'), '⁰'), regexp('1','g'), '¹'), regexp('2','g'), '²'), regexp('3','g'), '³'), regexp('4','g'), '⁴'), regexp('5','g'), '⁵'), regexp('6','g'), '⁶'), regexp('7','g'), '⁷'), regexp('8','g'), '⁸'), regexp('9','g'), '⁹') : ''",
                "tickSize": {"condition": {"test": "abs(log(datum.value)/LN10 - round(log(datum.value)/LN10)) < 0.001", "value": -5.5}, "value": -2.7},
                "labelPadding": 19.5, "title": "Flux (erg s⁻¹ cm⁻²)", "titleAngle": -90, "titleX": -80.7, "titleY": 182, "titleBaseline": "alphabetic", "zindex": 2}},
            "stroke": {"field": "series", "type": "nominal",
              "scale": {"domain": ["Sync", "IC-CMB", "IC-FIR", "IC-NIR", "SSC", "Brems", "Total"], "range": ["#00dd00", "#00e5e5", "#3a3aff", "#ff00ff", "#999999", "#ff4500", "#000000"]},
              "legend": {"title": null, "orient": "none", "legendX": 118.85, "legendY": 6.7, "symbolType": "M-10,0H10", "symbolSize": 33.3, "symbolStrokeWidth": {"expr": "datum.value === 'Total' ? 3 : 2"}, "labelAlign": "right", "labelOffset": -50.55, "labelFontSize": 16, "labelFont": "Liberation Sans", "labelColor": "#000000", "rowPadding": 2.6, "padding": 0, "labelLimit": 200}},
            "strokeDash": {"field": "series", "type": "nominal",
              "scale": {"domain": ["Sync", "IC-CMB", "IC-FIR", "IC-NIR", "SSC", "Brems", "Total"], "range": [[4, 2.5], [2, 2.5], [1, 1], [6, 2.5, 2, 2.5], [1.5, 1.5, 1.5, 5], [5, 2, 1.5, 2, 1.5, 2], [1, 0]]},
              "legend": {"title": null, "orient": "none", "legendX": 118.85, "legendY": 6.7, "symbolType": "M-10,0H10", "symbolSize": 33.3, "symbolStrokeWidth": {"expr": "datum.value === 'Total' ? 3 : 2"}, "labelAlign": "right", "labelOffset": -50.55, "labelFontSize": 16, "labelFont": "Liberation Sans", "labelColor": "#000000", "rowPadding": 2.6, "padding": 0, "labelLimit": 200}},
            "strokeWidth": {"condition": [{"test": "datum.series === 'Total'", "value": 3}, {"test": "datum.series === 'IC-FIR'", "value": 1.5}], "value": 2},
            "detail": {"field": "part"}
          }
        },
        {
          "data": {"name": "obs"},
          "mark": {"type": "line", "clip": true, "color": "#8a8a8a", "strokeWidth": 1.5},
          "encoding": {
            "x": {"field": "E", "type": "quantitative", "scale": {"type": "log", "domain": [3.83e-16, 3.65e6], "nice": false}, "axis": null},
            "y": {"field": "F", "type": "quantitative", "scale": {"type": "log", "domain": [1e-16, 1e-9], "nice": false}, "axis": null},
            "detail": {"field": "shape"},
            "order": {"field": "i", "type": "quantitative"}
          }
        },
        {
          "data": {"name": "xray"},
          "mark": {"type": "line", "clip": true, "color": "#ff0000", "strokeWidth": 1.5},
          "encoding": {
            "x": {"field": "E", "type": "quantitative", "scale": {"type": "log", "domain": [3.83e-16, 3.65e6], "nice": false}, "axis": null},
            "y": {"field": "F", "type": "quantitative", "scale": {"type": "log", "domain": [1e-16, 1e-9], "nice": false}, "axis": null},
            "detail": {"field": "part"}
          }
        },
        {
          "data": {"name": "lum"},
          "mark": {"type": "point", "opacity": 0},
          "encoding": {
            "y": {"field": "L", "type": "quantitative", "scale": {"type": "log", "domain": [1.972e29, 1.972e36], "nice": false},
              "axis": {"orient": "right", "values": [2e29, 3e29, 4e29, 5e29, 6e29, 7e29, 8e29, 9e29, 1e30, 2e30, 3e30, 4e30, 5e30, 6e30, 7e30, 8e30, 9e30, 1e31, 2e31, 3e31, 4e31, 5e31, 6e31, 7e31, 8e31, 9e31, 1e32, 2e32, 3e32, 4e32, 5e32, 6e32, 7e32, 8e32, 9e32, 1e33, 2e33, 3e33, 4e33, 5e33, 6e33, 7e33, 8e33, 9e33, 1e34, 2e34, 3e34, 4e34, 5e34, 6e34, 7e34, 8e34, 9e34, 1e35, 2e35, 3e35, 4e35, 5e35, 6e35, 7e35, 8e35, 9e35, 1e36],
                "labelExpr": "abs(log(datum.value)/LN10 - round(log(datum.value)/LN10)) < 0.001 ? '10' + replace(replace(replace(replace(replace(replace(replace(replace(replace(replace(replace('' + round(log(datum.value)/LN10), '-', '⁻'), regexp('0','g'), '⁰'), regexp('1','g'), '¹'), regexp('2','g'), '²'), regexp('3','g'), '³'), regexp('4','g'), '⁴'), regexp('5','g'), '⁵'), regexp('6','g'), '⁶'), regexp('7','g'), '⁷'), regexp('8','g'), '⁸'), regexp('9','g'), '⁹') : ''",
                "tickSize": {"condition": {"test": "abs(log(datum.value)/LN10 - round(log(datum.value)/LN10)) < 0.001", "value": -5}, "value": -2.7},
                "labelPadding": 18.3, "title": "Luminosity (erg s⁻¹)", "titleAngle": -90, "titleX": 84, "titleY": 182, "titleBaseline": "alphabetic", "zindex": 2}}
          }
        }
      ],
      "resolve": {"scale": {"y": "independent"}}
    }
  ],
  "spacing": 98,
  "bounds": "flush",
  "resolve": {"legend": {"stroke": "independent", "strokeDash": "independent"}},
  "config": {
    "view": {"stroke": null},
    "font": "Liberation Sans",
    "axis": {
      "labelFont": "Liberation Sans", "labelFontSize": 19.5, "labelColor": "#000000",
      "titleFont": "Liberation Sans", "titleFontSize": 19.5, "titleFontWeight": "normal", "titleColor": "#000000",
      "tickColor": "#000000", "tickWidth": 1, "domainColor": "#1a1a1a", "domainWidth": 1.6,
      "grid": false, "labelFlush": false, "labelOverlap": false, "labelBound": false
    }
  }
}
